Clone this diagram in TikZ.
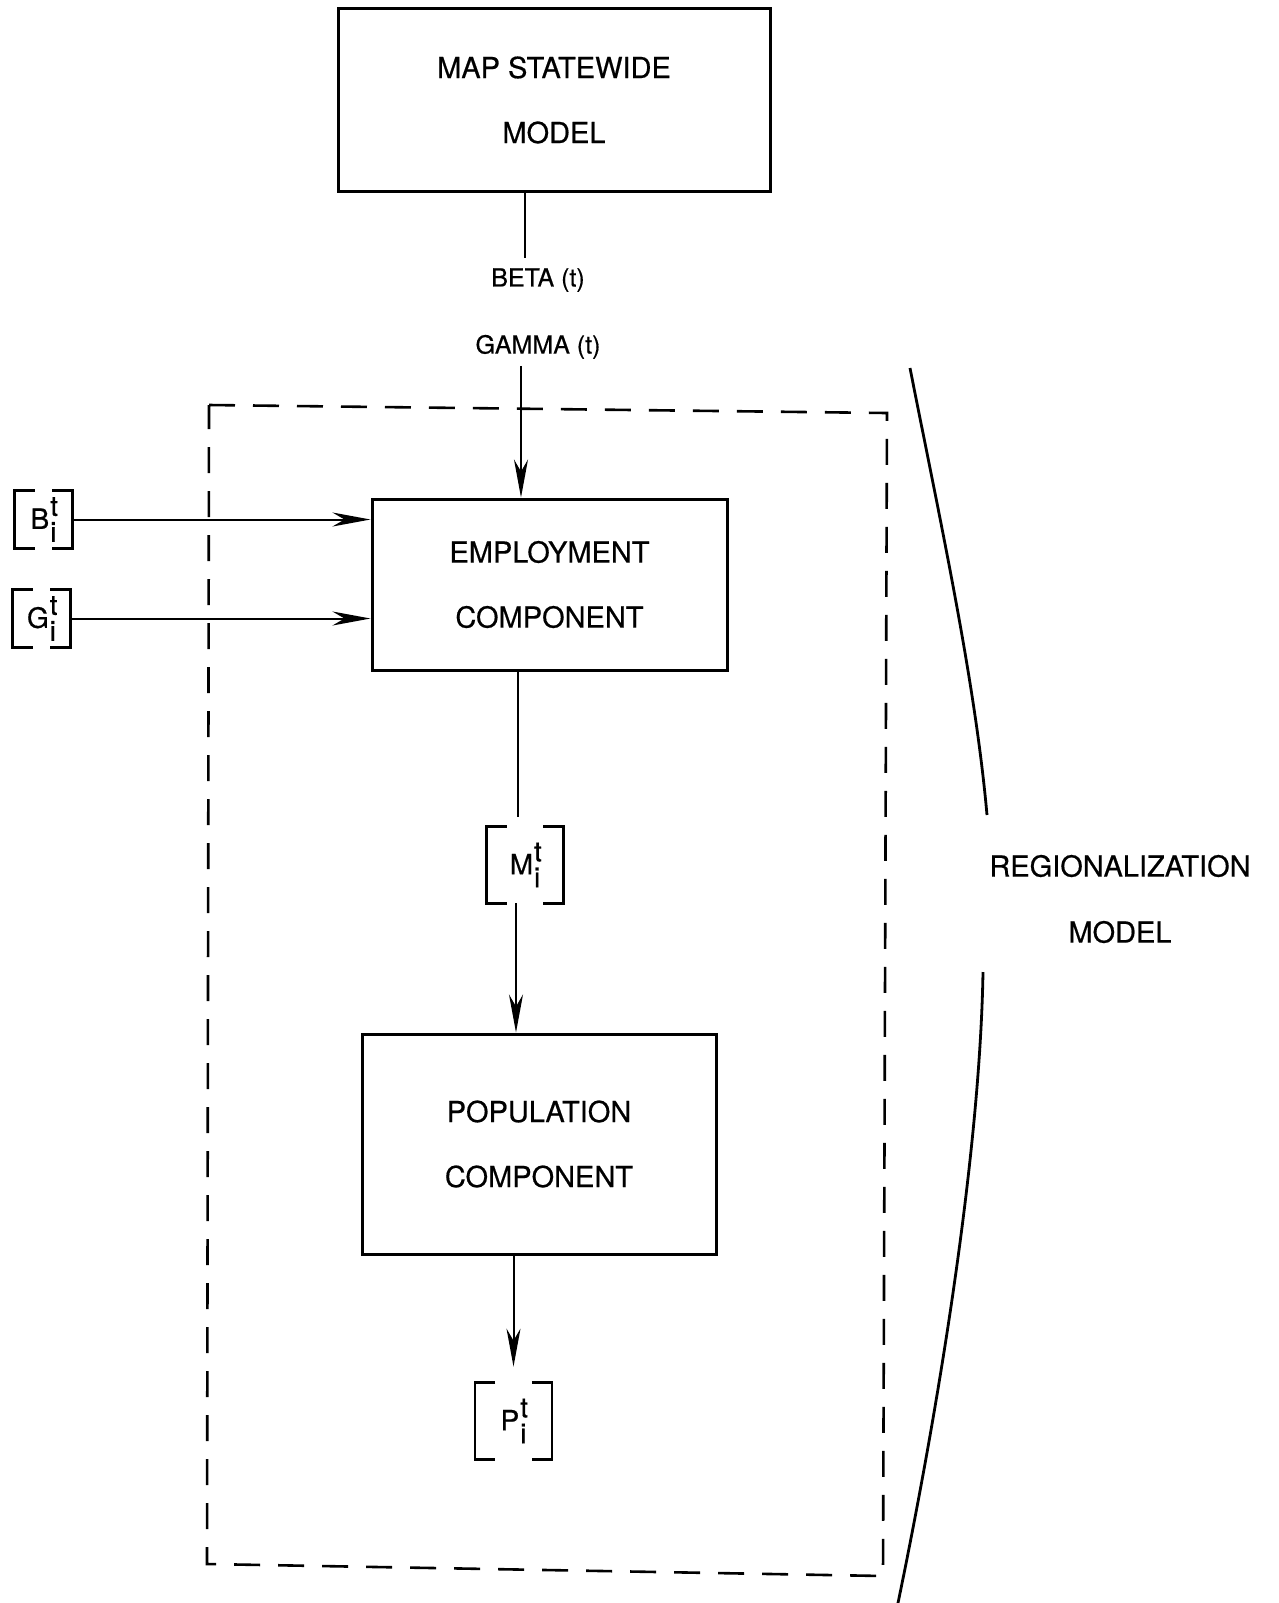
\documentclass[tikz,border=0pt]{standalone}
\usepackage{fontspec}
\setmainfont{TeX Gyre Heros}[FakeBold=0.5]
\usetikzlibrary{positioning}
\usetikzlibrary{arrows.meta}
\newcommand{\vsym}[1]{#1\kern0.5pt\rlap{\raisebox{6.5pt}{t}}\raisebox{-6.5pt}{i}}
\tikzset{%
  block/.style = {rectangle,draw,line width=1.5pt,align=center,
        execute at begin node={\rule{0pt}{15.5pt}},
        font=\fontsize{14.5}{32.5}\selectfont},
  vec/.style = {rectangle,inner sep=0pt,minimum width=28.5pt,
        minimum height=28.5pt,font=\fontsize{14}{15}\selectfont},
  vecbracket/.style = {line width=1.3pt},
  flowline/.style = {line width=1pt},
  flowarrow/.style = {-{Stealth[length=19pt,width=7pt,inset=6pt]},line width=1pt},
  regionframe/.style = {line width=1.3pt,dash pattern=on 13pt off 9pt},
  inlabel/.style = {font=\fontsize{12.5}{14}\selectfont}
}
\begin{document}
\begin{tikzpicture}[x=0.5pt,y=-0.5pt]
\useasboundingbox (0,0) rectangle (1279,1603);
\node[block,minimum width=216pt,minimum height=91.5pt] (state) at (554,100) {MAP STATEWIDE\\MODEL};
\node[inlabel] (beta) at (538,280) {BETA (t)};
\node[inlabel,below=14.5pt of beta] (gamma) {GAMMA (t)};
\node[block,minimum width=177.5pt,minimum height=85.5pt] (emp) at (549.5,584.5) {EMPLOYMENT\\COMPONENT};
\node[vec,minimum size=38pt] (m) at (525,865) {\vsym{M}};
\node[block,minimum width=177pt,minimum height=110pt] (pop) at (539,1144) {POPULATION\\COMPONENT};
\node[vec,minimum size=38pt] (p) at (513.5,1421) {\vsym{P}};
\node[vec] (b) at (43.5,519.5) {\vsym{B}};
\node[vec] (g) at (41.5,618.5) {\vsym{G}};
\node[align=center,font=\fontsize{14.5}{33}\selectfont] (region) at (1120,899) {REGIONALIZATION\\MODEL};

\draw[regionframe] (209,405) -- (887,413) -- (883,1576) -- (207,1564) -- cycle;
\draw[line width=1.4pt] (910,368) .. controls (940,520) and (975,680) .. (987,815);
\draw[line width=1.4pt] (983,972) .. controls (980,1150) and (940,1400) .. (898,1603);

\coordinate (cut) at (525,258);
\draw[flowline] (state.south -| cut) -- (cut);
\draw[flowarrow] ([xshift=-8.5pt]gamma.south) -- ([xshift=-8.5pt]gamma.south |- emp.north);
\draw[flowarrow] (b.east) -- (emp.west |- b.east);
\draw[flowarrow] (g.east) -- (emp.west |- g.east);
\draw[flowline] ([xshift=-3.5pt]m.north |- emp.south) -- ([xshift=-3.5pt,yshift=5pt]m.north);
\draw[flowarrow] ([xshift=-4.5pt]m.south) -- ([xshift=-4.5pt]m.south |- pop.north);
\draw[flowarrow] (p.north |- pop.south) -- ([yshift=8pt]p.north);

\foreach \v in {b,g,m,p} {
  \draw[vecbracket] ([xshift=10pt]\v.north west) -| (\v.south west) -- ++(10pt,0);
  \draw[vecbracket] ([xshift=-10pt]\v.north east) -| (\v.south east) -- ++(-10pt,0);
}
\end{tikzpicture}
\end{document}
